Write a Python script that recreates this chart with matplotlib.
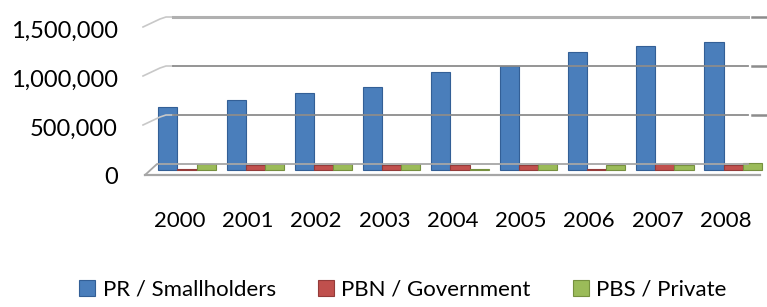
import matplotlib
matplotlib.use("Agg")
import matplotlib.pyplot as plt
import matplotlib.transforms as mtransforms
from matplotlib.lines import Line2D
import numpy as np

years = ["2000", "2001", "2002", "2003", "2004", "2005", "2006", "2007", "2008"]
pr_smallholders = [645000, 710000, 790000, 850000, 1000000, 1065000, 1205000, 1265000, 1305000]
pbn_government = [8000, 55000, 55000, 50000, 55000, 55000, 8000, 60000, 55000]
pbs_private = [60000, 60000, 60000, 60000, 8000, 60000, 55000, 55000, 70000]
y_ticks = [0, 500000, 1000000, 1500000]

series_names = ["PR / Smallholders", "PBN / Government", "PBS / Private"]
colors = ["#4a7ebb", "#c0504d", "#9bbb59"]
edges = ["#335f96", "#943b39", "#76903f"]

W, H, DPI = 767, 307, 100
plt.rcParams["font.family"] = ["Lato", "DejaVu Sans"]

fig = plt.figure(figsize=(W / DPI, H / DPI), dpi=DPI)
# front plane of the fake 3D box
ax = fig.add_axes([143 / W, 131 / H, 624 / W, 147 / H])
ax.set_xlim(-0.644, 8.496)
ax.set_ylim(0, 1500000)
for s in ax.spines.values():
    s.set_visible(False)
ax.tick_params(length=0)

x = np.arange(len(years))
w = 0.28

# back wall gridlines, shifted up/right like the excel 3D view
# (pixel coords, y measured from the bottom)
px = mtransforms.IdentityTransform()
grid_col = "#8c8c8c"
fig.canvas.draw()
for v in y_ticks:
    fy = ax.transData.transform((0, v))[1]
    if v == 0:
        fig.add_artist(Line2D([145, 157, 748], [fy + 1, fy + 12, fy + 12],
                              transform=px, color="#a6a6a6", lw=1.3))
        fig.add_artist(Line2D([145, 760], [fy + 1, fy + 1],
                              transform=px, color="#a6a6a6", lw=1.6))
        continue
    top = v == y_ticks[-1]
    fig.add_artist(Line2D([143, 160, 166, 173], [fy + 2, fy + 10, fy + 12, fy + 12],
                          transform=px, color="#c8c8c8", lw=1.2))
    fig.add_artist(Line2D([173, 748], [fy + 12, fy + 12], transform=px,
                          color="#b0b0b0" if top else grid_col, lw=2.2 if top else 1.3))
    fig.add_artist(Line2D([752, 767], [fy + 12, fy + 12], transform=px,
                          color=grid_col, lw=1.8))

# bars sit a little behind the front plane
shift = ax.transData + mtransforms.ScaledTranslation(0, 6 / DPI, fig.dpi_scale_trans)
for k, vals in enumerate([pr_smallholders, pbn_government, pbs_private]):
    bars = ax.bar(x + (k - 1) * w, vals, w, color=colors[k], edgecolor=edges[k],
                  linewidth=0.8, label=series_names[k], clip_on=False)
    for b in bars:
        b.set_transform(shift)

ax.set_xticks(x - 0.11)
ax.set_xticklabels(years, fontsize=16)
ax.tick_params(axis="x", pad=25)
ax.set_yticks(y_ticks)
ax.set_yticklabels([f"{v:,}" for v in y_ticks], fontsize=17)
ax.tick_params(axis="y", pad=18)

fig.legend(loc="center", bbox_to_anchor=(403 / W, 17 / H), ncol=3, frameon=False,
           fontsize=16, handlelength=0.7, handleheight=0.7, handletextpad=0.35,
           columnspacing=1.9, borderaxespad=0)

fig.savefig("out.png", dpi=DPI)
